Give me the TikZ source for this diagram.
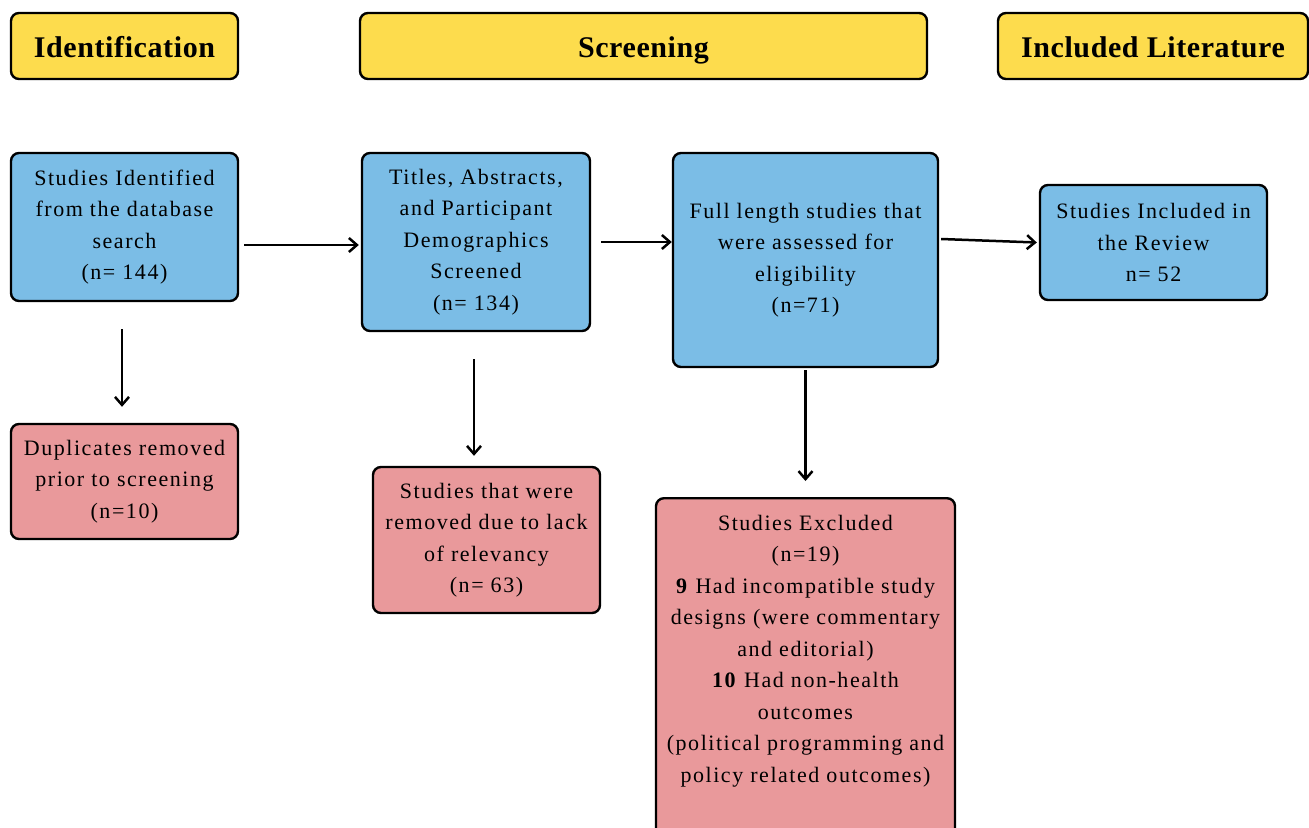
\documentclass[tikz,border=0pt]{standalone}
\usepackage{fontspec}
\setmainfont{Liberation Serif}[LetterSpace=7]
\newfontfamily\phasefont{Liberation Serif}[LetterSpace=2]
\usepackage{xcolor}
\usetikzlibrary{arrows.meta, positioning, calc}

\definecolor{phaseyellow}{RGB}{253,220,77}
\definecolor{stepblue}{RGB}{123,189,230}
\definecolor{droppink}{RGB}{233,153,155}

\begin{document}
\begin{tikzpicture}[x=0.5pt, y=-0.5pt,
    box/.style={draw=black, line width=1.2pt, rounded corners=4pt, align=center, inner sep=0pt, font=\fontsize{11}{15.75}\selectfont},
    phase/.style={box, fill=phaseyellow, minimum height=33pt, text height=14pt, text depth=2pt, font=\phasefont\fontsize{15}{18}\selectfont\bfseries},
    found/.style={box, fill=stepblue},
    dropped/.style={box, fill=droppink},
    arr/.style={-{Straight Barb[length=4pt, width=7pt]}, line width=1.25pt}]
    \clip (0,0) rectangle (1309,828);
    % Phase headers
    \node[phase, minimum width=113.5pt] (hIdent) at (124.5,46) {Identification};
    \node[phase, minimum width=283.5pt] (hScreen) at (643.5,46) {Screening};
    \node[phase, minimum width=155pt] (hIncl) at (1153,46) {Included Literature};
    % Flow steps
    \node[found, minimum width=113.5pt, minimum height=74pt] (ident) at (124.5,227)
        {Studies Identified\\from the database\\search\\(n= 144)};
    \node[found, minimum width=114pt, minimum height=89pt] (titles) at (476,242)
        {Titles, Abstracts,\\and Participant\\Demographics\\Screened\\(n= 134)};
    \node[found, minimum width=132.5pt, minimum height=107pt] (full) at (805.5,260)
        {Full length studies that\\were assessed for\\eligibility\\(n=71)};
    \node[found, minimum width=113.5pt, minimum height=57.5pt] (incl) at (1153.5,242.5)
        {Studies Included in\\the Review\\n= 52};
    % Removed studies
    \node[dropped, minimum width=113.5pt, minimum height=57.5pt] (dupl) at (124.5,481.5)
        {Duplicates removed\\prior to screening\\(n=10)};
    \node[dropped, minimum width=113.5pt, minimum height=73pt] (lack) at (486.5,540)
        {Studies that were\\removed due to lack\\of relevancy\\(n= 63)};
    \node[dropped, minimum width=149.5pt, inner ysep=8.5pt, text depth=163pt, anchor=north] (excl) at (805.5,497)
        {Studies Excluded\\(n=19)\\\textbf{9} Had incompatible study\\designs (were commentary\\and editorial)\\\textbf{10} Had non-health\\outcomes\\(political programming and\\policy related outcomes)};
    % Connectors
    \draw[arr] ([xshift=2.5pt,yshift=-9pt]ident.east) -- ([xshift=-1pt,yshift=-1.5pt]titles.west);
    \draw[arr] ([xshift=5pt]titles.east) -- (titles.east -| full.west);
    \draw[arr] ([xshift=1pt,yshift=10.5pt]full.east) -- ([xshift=-1pt]incl.west);
    \draw[arr] ([xshift=-1.25pt,yshift=-13.5pt]ident.south) -- ([xshift=-1.25pt,yshift=8pt]dupl.north);
    \draw[arr] ([xshift=-1pt,yshift=-13.5pt]titles.south) -- ([xshift=-6.25pt,yshift=5pt]lack.north);
    \draw[arr] ([yshift=-1pt]full.south) -- ([yshift=8pt]excl.north);
\end{tikzpicture}
\end{document}
